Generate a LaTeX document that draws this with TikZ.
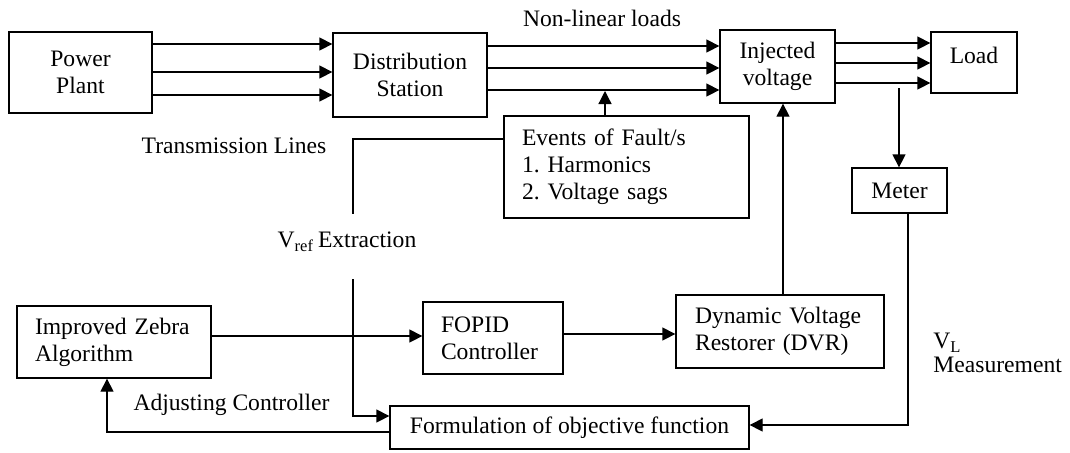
\documentclass[tikz,border=0pt]{standalone}
\usepackage{fontspec}
\setmainfont{Liberation Serif}
\usetikzlibrary{arrows.meta}
\frenchspacing
\begin{document}
\begin{tikzpicture}[x=0.5pt,y=-0.5pt,
  font=\fontsize{11.8}{13.4}\selectfont,
  box/.style={draw,line width=0.65pt,inner sep=0pt,align=center},
  lbox/.style={draw,line width=0.65pt,align=left,inner ysep=0pt},
  conn/.style={line width=0.65pt},
  arr/.style={line width=0.65pt,-{Triangle[length=6.5pt,width=6.5pt]}},
  lbl/.style={inner sep=0pt}]
\useasboundingbox (0,0) rectangle (1070,452);
% boxes
\node[box,minimum width=71.5pt,minimum height=40.5pt] (pp) at (80.5,72.5) {Power\\Plant};
\node[box,minimum width=77pt,minimum height=42pt] (ds) at (410,75) {Distribution\\Station};
\node[box,minimum width=57.5pt,minimum height=36.5pt] (iv) at (777.5,66.5) {Injected\\voltage};
\node[box,minimum width=43pt,minimum height=30.5pt] (ld) at (974,62.5) {\raisebox{-0.7pt}[0pt][0pt]{Load}};
\node[lbox,text width=104.5pt,inner xsep=9pt,minimum height=51pt] (ev) at (626.5,167) {Events of Fault/s\\1. Harmonics\\2. Voltage sags};
\node[box,minimum width=47.5pt,minimum height=22.5pt] (mt) at (899.5,190.5) {Meter};
\node[lbox,text width=85pt,inner xsep=9.5pt,minimum height=36.5pt] (dvr) at (780,331.5) {Dynamic Voltage\\Restorer (DVR)};
\node[lbox,text width=52pt,inner xsep=9pt,minimum height=36pt] (fo) at (493,338) {FOPID\\Controller};
\node[lbox,text width=79pt,inner xsep=9pt,minimum height=36pt] (iza) at (114,342) {Improved Zebra\\Algorithm};
\node[box,minimum width=179.5pt,minimum height=21.5pt] (form) at (569.5,427.5) {Formulation of objective function};
% labels
\node[lbl] (nl) at (602,18) {Non-linear loads};
\node[lbl] (tl) at (234,146) {Transmission Lines};
\node[lbl] (vr) at (347,242) {V\textsubscript{ref}\,Extraction};
\node[lbl] (ac) at (231.5,405) {Adjusting Controller};
\node[lbl,anchor=west] (vl) at (933,343) {V\textsubscript{L}};
\node[lbl,anchor=west] (ms) at (933,365) {Measurement};
% connectors
\foreach \yy in {44,72,95} \draw[arr] (pp.east |- 0,\yy) -- (ds.west |- 0,\yy);
\foreach \yy in {46,68,90} \draw[arr] (ds.east |- 0,\yy) -- (iv.west |- 0,\yy);
\foreach \yy in {43,63,83} \draw[arr] (iv.east |- 0,\yy) -- (ld.west |- 0,\yy);
\coordinate (evt) at (605,91);
\draw[arr] (ev.north -| evt) -- (evt);
\coordinate (mtop) at (899,88);
\draw[arr] (mtop) -- (mt.north -| mtop);
\coordinate (mb) at (908,425);
\draw[arr] (mt.south -| mb) -- (mb) -- (form.east |- mb);
\coordinate (dv) at (783,0);
\draw[arr] (dvr.north -| dv) -- (iv.south -| dv);
\draw[arr] (iza.east |- 0,336) -- (fo.west |- 0,336);
\draw[arr] (fo.east |- 0,334) -- (dvr.west |- 0,334);
\coordinate (fb) at (107,432);
\draw[arr] (form.west |- fb) -- (fb) -- (iza.south -| fb);
\coordinate (va) at (353,139);
\coordinate (vb) at (353,214);
\coordinate (vc) at (353,279);
\coordinate (vd) at (353,416);
\draw[conn] (ev.west |- va) -- (va) -- (vb);
\draw[arr] (vc) -- (vd) -- (form.west |- vd);
\end{tikzpicture}
\end{document}
